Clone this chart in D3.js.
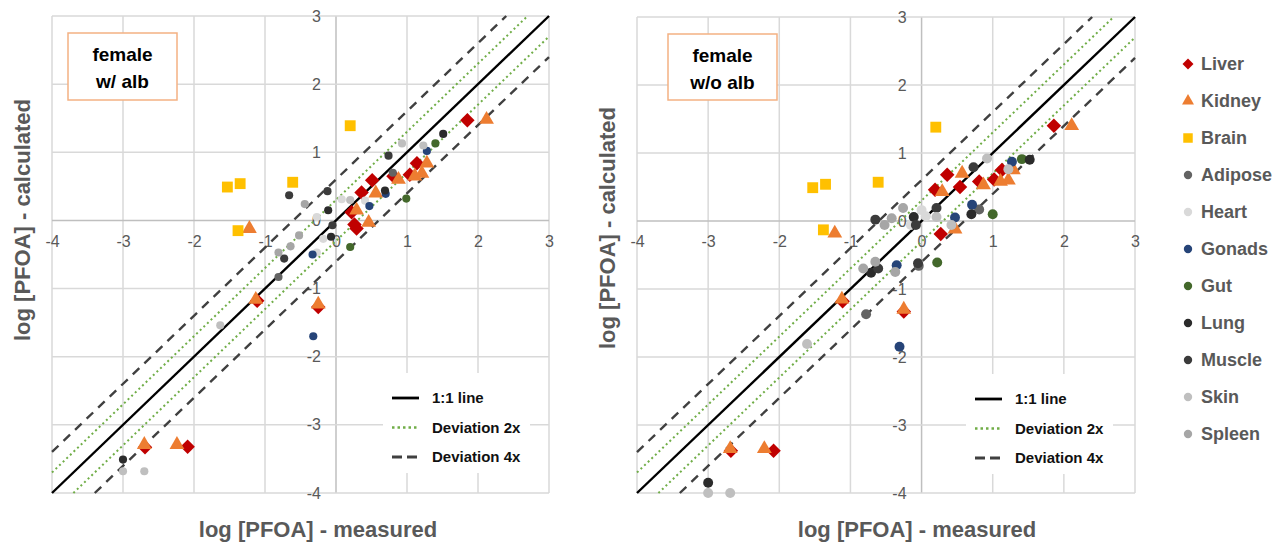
<!DOCTYPE html>
<html>
<head>
<meta charset="utf-8">
<script src="https://cdn.jsdelivr.net/npm/d3@7"></script>
<style>
  html, body { margin: 0; padding: 0; background: #fff; }
  svg { display: block; font-family: "Liberation Sans", Arial, sans-serif; }
</style>
</head>
<body>
<svg id="chart" width="1283" height="545"></svg>
<script>
// Tissues and their marker styles
const tissues = ["Liver", "Kidney", "Brain", "Adipose", "Heart", "Gonads", "Gut", "Lung", "Muscle", "Skin", "Spleen"];
const tissueColors = ["#c00000", "#ed7d31", "#ffc000", "#636363", "#d9d9d9", "#264478", "#43682b", "#2b2b2b", "#3b3b3b", "#bfbfbf", "#a6a6a6"];
const tissueShapes = ["diamond", "triangle", "square", "circle", "circle", "circle", "circle", "circle", "circle", "circle", "circle"];

// Axis ticks (log units)
const ticks = [-4, -3, -2, -1, 0, 1, 2, 3];

// Reference lines: 1:1, factor 2 and factor 4 deviation
const refLines = [
  { label: "1:1 line", offset: 0 },
  { label: "Deviation 2x", offset: Math.log10(2) },
  { label: "Deviation 4x", offset: Math.log10(4) }
];

// [log measured, log calculated] per tissue, female model with albumin binding
const liverAlb   = [[1.85,1.47],[1.14,0.84],[1.04,0.67],[0.81,0.65],[0.51,0.59],[0.36,0.41],[0.22,0.12],[0.26,-0.06],[0.29,-0.12],[-1.11,-1.18],[-0.25,-1.27],[-2.09,-3.32],[-2.69,-3.33]];
const kidneyAlb  = [[2.12,1.48],[1.28,0.84],[1.21,0.69],[1.11,0.65],[0.88,0.60],[0.56,0.40],[0.29,0.15],[0.46,-0.03],[-1.22,-0.12],[-1.13,-1.16],[-0.25,-1.23],[-2.24,-3.29],[-2.70,-3.29]];
const brainAlb   = [[-1.53,0.49],[-1.35,0.54],[-0.61,0.56],[-1.38,-0.15],[0.20,1.39]];
const adiposeAlb = [[0.80,0.70],[-0.81,-0.83]];
const heartAlb   = [[0.08,0.31],[-0.18,-0.27],[-0.27,-0.47],[0.41,0.29],[-0.27,0.05]];
const gonadsAlb  = [[1.28,1.02],[0.70,0.39],[0.47,0.21],[-0.33,-0.50],[-0.32,-1.70]];
const gutAlb     = [[1.40,1.13],[0.99,0.32],[0.20,-0.39]];
const lungAlb    = [[1.51,1.27],[0.69,0.44],[-0.11,0.15],[-0.07,-0.24],[-3.00,-3.51]];
const muscleAlb  = [[0.74,0.95],[-0.12,0.43],[-0.66,0.37],[-0.05,-0.07],[-0.73,-0.56]];
const skinAlb    = [[0.93,1.13],[1.23,1.10],[0.20,0.30],[-1.63,-1.54],[-3.00,-3.68],[-2.70,-3.68]];
const spleenAlb  = [[-0.44,0.24],[-0.52,-0.22],[-0.81,-0.47],[-0.64,-0.38]];

// [log measured, log calculated] per tissue, female model without albumin binding
const liverNoAlb   = [[1.86,1.40],[1.13,0.75],[1.02,0.61],[0.81,0.58],[0.54,0.50],[0.36,0.68],[0.19,0.46],[0.27,-0.19],[-1.11,-1.18],[-0.25,-1.33],[-2.08,-3.38],[-2.68,-3.38]];
const kidneyNoAlb  = [[2.11,1.40],[1.29,0.75],[1.22,0.60],[1.11,0.58],[0.87,0.53],[0.57,0.70],[0.29,0.43],[0.47,-0.12],[-1.22,-0.18],[-1.12,-1.15],[-0.25,-1.30],[-2.21,-3.35],[-2.69,-3.35]];
const brainNoAlb   = [[-1.53,0.49],[-1.35,0.54],[-0.61,0.57],[-1.38,-0.13],[0.20,1.38]];
const adiposeNoAlb = [[0.81,0.17],[-0.78,-1.37],[-0.04,-0.66]];
const heartNoAlb   = [[0.00,0.16],[0.06,0.07],[-0.15,-0.06]];
const gonadsNoAlb  = [[1.27,0.87],[0.71,0.24],[0.47,0.05],[-0.35,-0.65],[-0.31,-1.85]];
const gutNoAlb     = [[1.41,0.91],[1.00,0.10],[0.22,-0.61]];
const lungNoAlb    = [[1.52,0.90],[0.70,0.10],[-0.11,0.06],[-0.71,-0.76],[-3.00,-3.85]];
const muscleNoAlb  = [[0.73,0.79],[0.21,0.19],[-0.08,-0.06],[-0.65,0.02],[-0.61,-0.70],[-0.05,-0.62]];
const skinNoAlb    = [[0.92,0.92],[1.22,0.76],[0.42,-0.06],[0.21,0.06],[-1.61,-1.81],[-3.00,-4.00],[-2.69,-4.00]];
const spleenNoAlb  = [[-0.26,0.19],[-0.42,0.04],[-0.52,-0.06],[-0.82,-0.70],[-0.65,-0.60],[-0.37,-0.75]];

const seriesAlb = [liverAlb, kidneyAlb, brainAlb, adiposeAlb, heartAlb, gonadsAlb, gutAlb, lungAlb, muscleAlb, skinAlb, spleenAlb];
const seriesNoAlb = [liverNoAlb, kidneyNoAlb, brainNoAlb, adiposeNoAlb, heartNoAlb, gonadsNoAlb, gutNoAlb, lungNoAlb, muscleNoAlb, skinNoAlb, spleenNoAlb];

const svg = d3.select("#chart");
const textGrey = "#595959";

function markerPath(shape, size) {
  if (shape === "diamond") return d3.symbol(d3.symbolSquare, size)();
  if (shape === "triangle") return d3.symbol(d3.symbolTriangle, size)();
  if (shape === "square") return d3.symbol(d3.symbolSquare, size)();
  return d3.symbol(d3.symbolCircle, size)();
}
function markerSize(shape, circleSize) {
  return { diamond: 105, triangle: 95, square: 118, circle: circleSize }[shape];
}
function markerRotate(shape) { return shape === "diamond" ? " rotate(45)" : ""; }

function drawPanel(opts) {
  const x = d3.scaleLinear().domain([-4, 3]).range([opts.left, opts.right]);
  const y = d3.scaleLinear().domain([-4, 3]).range([opts.bottom, opts.top]);
  const g = svg.append("g");

  // grid
  const grid = g.append("g");
  grid.selectAll("line.v").data(ticks).join("line")
    .attr("x1", d => x(d)).attr("x2", d => x(d))
    .attr("y1", y(-4)).attr("y2", y(3))
    .attr("stroke", d => d === 0 ? "#bfbfbf" : "#d9d9d9").attr("stroke-width", 1.5);
  grid.selectAll("line.h").data(ticks).join("line")
    .attr("y1", d => y(d)).attr("y2", d => y(d))
    .attr("x1", x(-4)).attr("x2", x(3))
    .attr("stroke", d => d === 0 ? "#bfbfbf" : "#d9d9d9").attr("stroke-width", 1.5);

  // tick labels placed along the zero axes
  const xAxis = g.append("g").attr("transform", `translate(0,${y(0)})`)
    .call(d3.axisBottom(x).tickValues(ticks).tickSize(0).tickPadding(15).tickFormat(d => String(d)));
  const yAxis = g.append("g").attr("transform", `translate(${x(0)},0)`)
    .call(d3.axisLeft(y).tickValues(ticks).tickSize(0).tickPadding(15).tickFormat(d => String(d)));
  [xAxis, yAxis].forEach(a => {
    a.select(".domain").remove();
    a.selectAll("text").attr("fill", textGrey).attr("font-size", 16).attr("font-family", "Liberation Sans, Arial, sans-serif");
  });

  // legend backdrop (covers grid behind the line legend)
  const lg = opts.lineLegend;
  g.append("rect").attr("x", lg.x - 9).attr("y", lg.y - 25).attr("width", 147).attr("height", 100).attr("fill", "#fff");

  // reference lines
  const clip = ([a, b]) => [Math.max(-4, a), Math.min(3, b)];
  const lineStyles = [
    { stroke: "#000", width: 2.4, dash: null },
    { stroke: "#70ad47", width: 2, dash: "2,3" },
    { stroke: "#404040", width: 2.4, dash: "9,7" }
  ];
  const segs = [];
  refLines.forEach((r, i) => {
    const offs = r.offset === 0 ? [0] : [r.offset, -r.offset];
    offs.forEach(o => {
      const [x0, x1] = clip([-4 - o, 3 - o]);
      segs.push({ x0, x1, o, style: lineStyles[i] });
    });
  });
  g.selectAll("line.ref").data(segs).join("line")
    .attr("x1", d => x(d.x0)).attr("y1", d => y(d.x0 + d.o))
    .attr("x2", d => x(d.x1)).attr("y2", d => y(d.x1 + d.o))
    .attr("stroke", d => d.style.stroke).attr("stroke-width", d => d.style.width)
    .attr("stroke-dasharray", d => d.style.dash);

  // data markers
  opts.series.forEach((pts, i) => {
    const shape = tissueShapes[i];
    const p = markerPath(shape, markerSize(shape, opts.circleSize));
    g.append("g").selectAll("path").data(pts).join("path")
      .attr("d", p)
      .attr("transform", d => `translate(${x(d[0])},${y(d[1])})${markerRotate(shape)}`)
      .attr("fill", tissueColors[i]);
  });

  // line legend
  const leg = g.append("g");
  refLines.forEach((r, i) => {
    const yy = lg.y + i * 29.5;
    leg.append("line").attr("x1", lg.x).attr("x2", lg.x + 27).attr("y1", yy).attr("y2", yy)
      .attr("stroke", lineStyles[i].stroke).attr("stroke-width", lineStyles[i].width + 0.4)
      .attr("stroke-dasharray", i === 1 ? "2.5,3" : i === 2 ? "10,5" : null);
    leg.append("text").attr("x", lg.x + 40).attr("y", yy).attr("dy", "0.36em")
      .attr("font-size", 15).attr("font-weight", "bold").attr("fill", "#111").text(r.label);
  });

  // panel label box
  const b = opts.box;
  g.append("rect").attr("x", b.x).attr("y", b.y).attr("width", b.w).attr("height", b.h)
    .attr("fill", "#fff").attr("stroke", "#f4b183").attr("stroke-width", 1.5);
  opts.boxLines.forEach((t, i) => {
    g.append("text").attr("x", b.x + b.w / 2).attr("y", b.y + 21 + i * 27).attr("dy", "0.36em")
      .attr("text-anchor", "middle").attr("font-size", 19).attr("font-weight", "bold").attr("fill", "#000").text(t);
  });

  // axis titles
  g.append("text").attr("x", opts.xTitle[0]).attr("y", opts.xTitle[1]).attr("dy", "0.36em")
    .attr("text-anchor", "middle").attr("font-size", 22).attr("font-weight", "bold").attr("fill", textGrey)
    .text("log [PFOA] - measured");
  g.append("text").attr("transform", `translate(${opts.yTitle[0]},${opts.yTitle[1]}) rotate(-90)`).attr("dy", "0.36em")
    .attr("text-anchor", "middle").attr("font-size", 22).attr("font-weight", "bold").attr("fill", textGrey)
    .text("log [PFOA] - calculated");
}

drawPanel({
  left: 52, right: 549, top: 16, bottom: 493,
  series: seriesAlb, circleSize: 52,
  box: { x: 68, y: 33, w: 109, h: 67 }, boxLines: ["female", "w/ alb"],
  lineLegend: { x: 392, y: 398 },
  xTitle: [318, 529], yTitle: [22, 220]
});

drawPanel({
  left: 637, right: 1135, top: 17, bottom: 493,
  series: seriesNoAlb, circleSize: 78,
  box: { x: 668, y: 34, w: 109, h: 66 }, boxLines: ["female", "w/o alb"],
  lineLegend: { x: 975, y: 399 },
  xTitle: [917, 529], yTitle: [607, 228]
});

// tissue legend
const tl = svg.append("g");
tissues.forEach((t, i) => {
  const yy = 64 + i * 37;
  const shape = tissueShapes[i];
  const size = { diamond: 60, triangle: 62, square: 90, circle: 55 }[shape];
  tl.append("path").attr("d", markerPath(shape, size))
    .attr("transform", `translate(1188,${yy})${markerRotate(shape)}`)
    .attr("fill", tissueColors[i]);
  tl.append("text").attr("x", 1201).attr("y", yy).attr("dy", "0.36em")
    .attr("font-size", 18).attr("font-weight", "bold").attr("fill", textGrey).text(t);
});
</script>
</body>
</html>
